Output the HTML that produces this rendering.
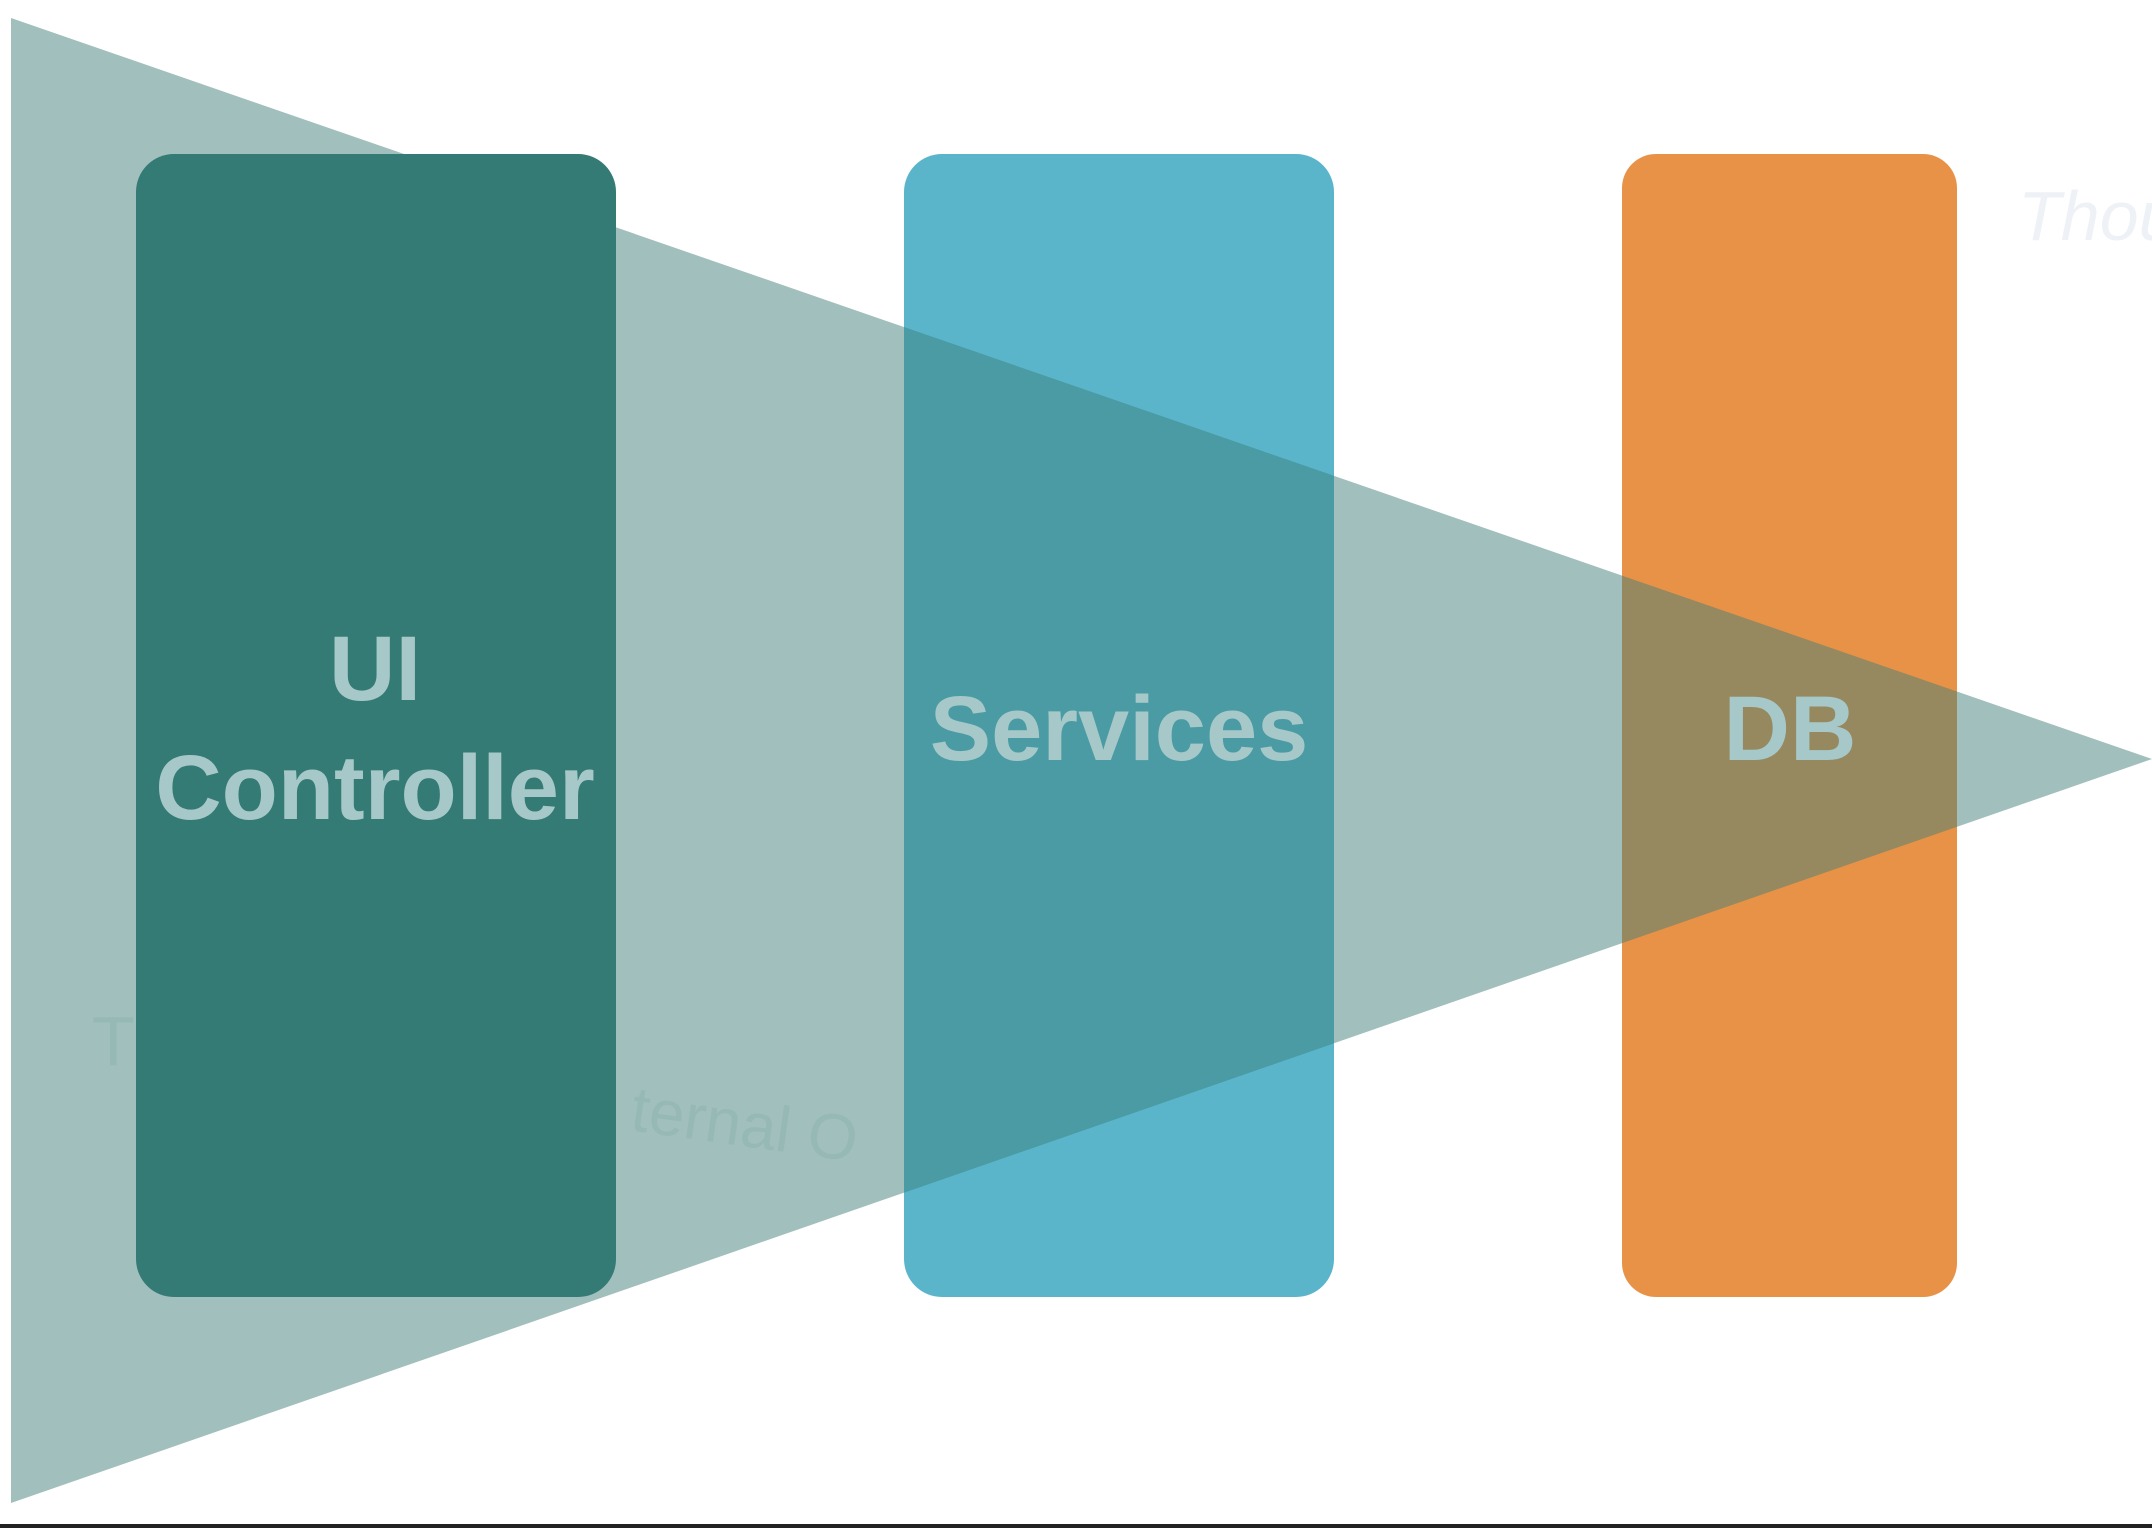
<!DOCTYPE html>
<html><head><style>
html,body{margin:0;padding:0;background:#fff;}
body{width:2152px;height:1528px;overflow:hidden;position:relative;}
svg{position:absolute;left:0;top:0;}
.t{font-family:"Liberation Sans",Arial,sans-serif;}
</style></head><body>
<svg width="2152" height="1528" viewBox="0 0 2152 1528">
<text class="t" x="2018" y="240" font-style="italic" font-size="70" fill="#eef2f7">Thou</text>
<rect x="904" y="154" width="430" height="1143" rx="38" fill="#5ab5cb"/>
<rect x="1622" y="154" width="335" height="1143" rx="34" fill="#e89247"/>
<polygon points="11,18 2152,759 11,1503" fill="#447f7a" fill-opacity="0.5"/>
<clipPath id="c"><polygon points="11,18 2152,759 11,1503"/></clipPath>
<rect x="904" y="154" width="430" height="1143" rx="38" fill="#4a9ba4" clip-path="url(#c)"/>
<text class="t" x="92" y="1065" font-size="70" fill="#96b9b6">T</text>
<text class="t" x="629" y="1130" transform="rotate(8 629 1130)" font-size="64" fill="#96b9b6">ternal O</text>
<rect x="136" y="154" width="480" height="1143" rx="38" fill="#347a75"/>
<g class="t" font-weight="bold" font-size="92" fill="#a6c8c8" text-anchor="middle">
<text x="375" y="700">UI</text>
<text x="375" y="819">Controller</text>
<text x="1119" y="760">Services</text>
<text x="1790" y="760">DB</text>
</g>
<rect x="0" y="1524" width="2152" height="4" fill="#222"/>
</svg>
</body></html>
